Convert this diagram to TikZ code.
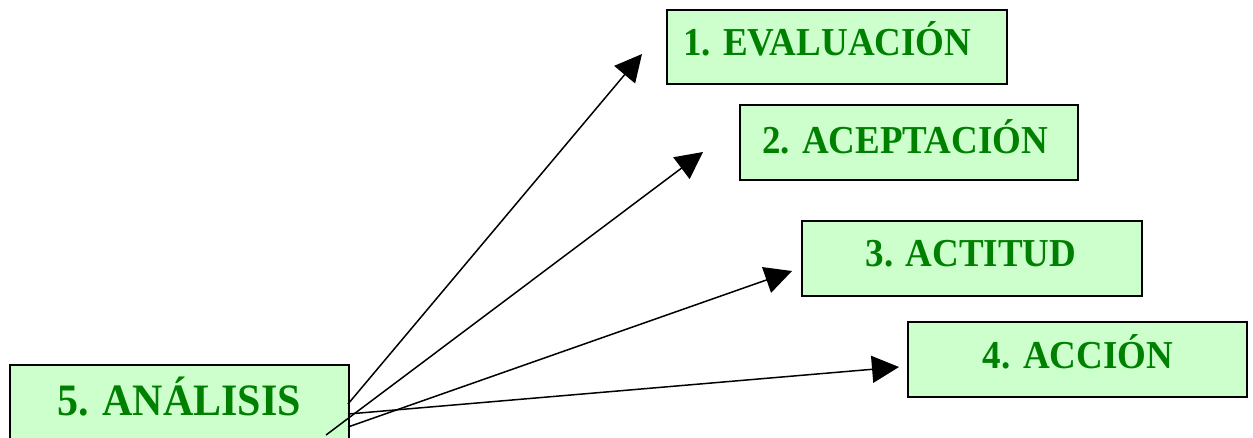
\documentclass[tikz,border=0pt]{standalone}
\usepackage{fontspec}
\setmainfont{Liberation Serif}
\usetikzlibrary{arrows.meta}
\definecolor{boxfill}{HTML}{CCFFCC}
\definecolor{txtgreen}{HTML}{008000}
\newcommand{\tallertext}[1]{\scalebox{1}[1.07]{#1}}
\tikzset{
  box/.style={draw=black, line width=2.4pt, fill=boxfill, rectangle, inner sep=0pt},
  lbl/.style={text=txtgreen, font=\bfseries\fontsize{37}{40}\selectfont, inner sep=0pt},
  biglbl/.style={text=txtgreen, font=\bfseries\fontsize{42}{46}\selectfont, inner sep=0pt},
  conn/.style={line width=1.5pt, -{Triangle[length=27pt,width=27pt]}}
}
\begin{document}
\begin{tikzpicture}[x=1pt,y=-1pt]
\clip (0,0) rectangle (1253,437);
\fill[white] (0,0) rectangle (1253,437);
% boxes
\node[box, minimum width=340pt, minimum height=74pt] (b1) at (837,47) {};
\node[box, minimum width=338pt, minimum height=75pt] (b2) at (909,142.5) {};
\node[box, minimum width=340pt, minimum height=75pt] (b3) at (972,258.5) {};
\node[box, minimum width=339pt, minimum height=75pt] (b4) at (1077.5,359.5) {};
\node[box, minimum width=339pt, minimum height=90pt] (b5) at (179.5,410) {};
% labels
\node[lbl, anchor=base west] (t1) at (683,55) {\tallertext{1. EVALUACIÓN}};
\node[lbl, anchor=base west] (t2) at (762,153) {\tallertext{2. ACEPTACIÓN}};
\node[lbl, anchor=base] (t3) at (971,266) {\tallertext{3. ACTITUD}};
\node[lbl, anchor=base] (t4) at (1078,368) {\tallertext{4. ACCIÓN}};
\node[biglbl, anchor=base] (t5) at (179,415) {\tallertext{5. ANÁLISIS}};
% connector ends
\coordinate (s1) at (348,404);
\coordinate (s2) at (326,435);
\coordinate (s3) at (348,427);
\coordinate (s4) at (348,414);
\coordinate (e1) at (642,54);
\coordinate (e2) at (703,152);
\coordinate (e3) at (792,271);
\coordinate (e4) at (899,367);
\draw[conn] (s1) -- (e1);
\draw[conn] (s2) -- (e2);
\draw[conn] (s3) -- (e3);
\draw[conn] (s4) -- (e4);
\end{tikzpicture}
\end{document}
